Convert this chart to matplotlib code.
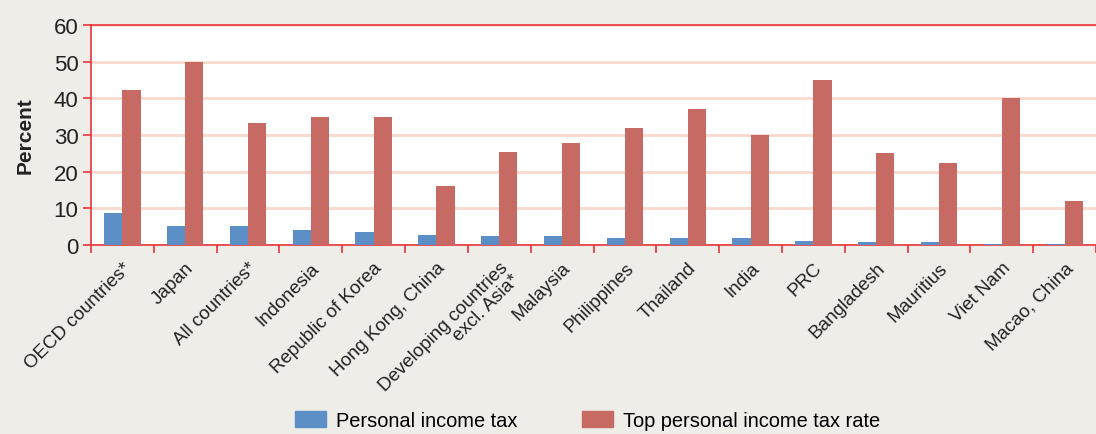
import matplotlib
matplotlib.use("Agg")
import matplotlib.pyplot as plt
import numpy as np
from matplotlib.patches import Patch

categories = ["OECD countries*", "Japan", "All countries*", "Indonesia",
              "Republic of Korea", "Hong Kong, China",
              "Developing countries\nexcl. Asia*", "Malaysia", "Philippines",
              "Thailand", "India", "PRC", "Bangladesh", "Mauritius",
              "Viet Nam", "Macao, China"]
personal_income_tax = [8.7, 5.2, 5.2, 4.1, 3.5, 2.7, 2.5, 2.5, 1.9, 1.9,
                       1.9, 1.1, 0.8, 0.8, 0.3, 0.3]
top_rate = [42.3, 50, 33.3, 35, 35, 16, 25.4, 27.8, 32, 37,
            30, 45, 25, 22.4, 40, 12]
yticks = [0, 10, 20, 30, 40, 50, 60]

plt.rcParams['font.family'] = ['Liberation Sans', 'DejaVu Sans']

blue = '#5b8fc6'
red = '#c76a63'
spine_red = '#e8333a'
grid_col = '#f8d9cb'
bg = '#efede8'
txt = '#222222'

fig = plt.figure(figsize=(10.96, 4.35), dpi=100, facecolor=bg)
ax = fig.add_axes([91/1096, 189/435, 1005/1096, 220/435])
ax.set_facecolor('white')

x = np.arange(len(categories))
w = 0.29
ax.bar(x - w/2, personal_income_tax, width=w, color=blue, zorder=3)
ax.bar(x + w/2, top_rate, width=w, color=red, zorder=3)

ax.set_xlim(-0.5, 15.45)
ax.set_ylim(0, 60)
ax.set_yticks(yticks)
ax.set_yticklabels([str(v) for v in yticks], fontsize=16, color=txt)
ax.yaxis.grid(True, color=grid_col, linewidth=2, zorder=0)
ax.set_axisbelow(True)

ax.set_xticks(np.arange(-0.5, 16, 1), minor=False)
ax.set_xticklabels([])
ax.set_xticks(x, minor=True)
ax.set_xticklabels(categories, minor=True, rotation=45, ha='right',
                   rotation_mode='anchor', fontsize=13.5, color=txt,
                   multialignment='right', linespacing=0.95)
ax.tick_params(axis='x', which='minor', length=0, pad=10)
ax.tick_params(axis='x', which='major', length=6, color=spine_red, width=1.2)
ax.tick_params(axis='y', length=6, color=spine_red, width=1.2, pad=3)

for s in ['left', 'bottom', 'top']:
    ax.spines[s].set_color(spine_red)
    ax.spines[s].set_linewidth(1.2)
ax.spines['right'].set_visible(False)

ax.set_ylabel('Percent', fontsize=15, fontweight='bold', color=txt,
              labelpad=14)

handles = [Patch(color=blue, label='Personal income tax'),
           Patch(color=red, label='Top personal income tax rate')]
fig.legend(handles=handles, loc='lower center', ncol=2, frameon=False,
           bbox_to_anchor=(0.536, -0.032), fontsize=14.4, handlelength=1.55,
           handleheight=0.9, handletextpad=0.5, columnspacing=3.2)

fig.savefig('out.png', dpi=100, facecolor=bg)
